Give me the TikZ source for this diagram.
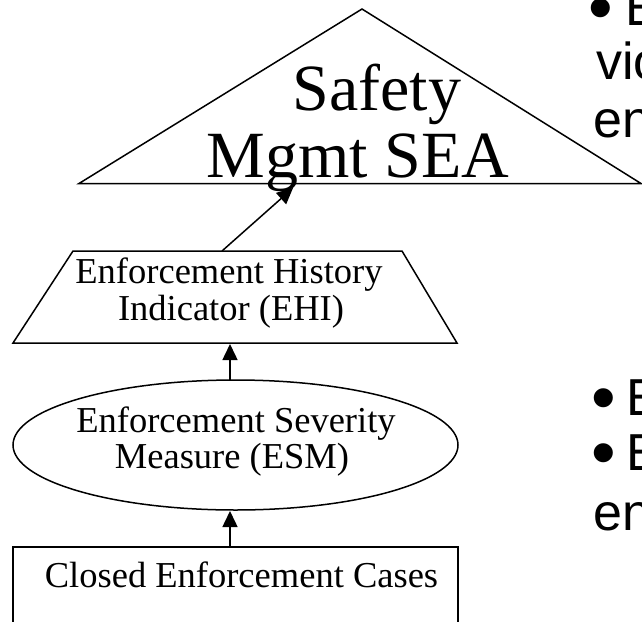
\documentclass[tikz,border=0pt]{standalone}
\usepackage{fontspec}
\setmainfont{Liberation Serif}
\newfontfamily\bulletfont{Liberation Sans}
\usetikzlibrary{arrows.meta,shapes.geometric}

% enlarged bullet followed by its item text, set in a box of the given width
\newcommand{\bulletitem}[2]{\makebox[#1][l]{\raisebox{-6pt}{\scalebox{1.35}{•}}}#2}

\tikzset{
  outline/.style={draw=black, line width=1.5pt, line join=miter},
  flowarrow/.style={draw=black, line width=1.5pt, -{Triangle[length=16pt,width=15pt]}},
  bigtext/.style={inner sep=0pt, anchor=base, font=\fontsize{66}{67}\selectfont},
  boxtext/.style={inner sep=0pt, anchor=base, font=\fontsize{36.5}{37}\selectfont},
  sidetext/.style={inner sep=0pt, anchor=base west, text height=38pt, text depth=0pt,
    font=\bulletfont\fontsize{52}{58}\selectfont}
}

\begin{document}
\begin{tikzpicture}[x=1pt, y=-1pt]
  \useasboundingbox (0,0) rectangle (642,621);
  \clip (0,0) rectangle (642,621);

  % Safety management triangle
  \coordinate (apex) at (362,9);
  \coordinate (baseL) at (79,183.5);
  \coordinate (baseR) at (641,183.5);
  \draw[outline] (apex) -- (baseR) -- (baseL) -- cycle;
  \node[bigtext] (seaA) at (377,110) {Safety};
  \node[bigtext] (seaB) at (358,177) {Mgmt SEA};

  % Enforcement history indicator (trapezoid)
  \coordinate (ehiTL) at (73,251);
  \coordinate (ehiTR) at (402,251);
  \coordinate (ehiBR) at (457,343);
  \coordinate (ehiBL) at (13,343);
  \draw[outline] (ehiTL) -- (ehiTR) -- (ehiBR) -- (ehiBL) -- cycle;
  \node[boxtext] (ehiA) at (229,283) {Enforcement History};
  \node[boxtext] (ehiB) at (231,320) {Indicator (EHI)};

  % Enforcement severity measure (ellipse)
  \node[outline, ellipse, minimum width=445pt, minimum height=130pt, inner sep=0pt] (esm) at (235.5,445) {};
  \node[boxtext] (esmA) at (236,432) {Enforcement Severity};
  \node[boxtext] (esmB) at (232,468) {Measure (ESM)};

  % Closed enforcement cases (box running off the bottom)
  \coordinate (cecBL) at (13,630);
  \coordinate (cecTL) at (13,547);
  \coordinate (cecTR) at (458,547);
  \coordinate (cecBR) at (458,630);
  \draw[outline] (cecBL) -- (cecTL) -- (cecTR) -- (cecBR);
  \node[boxtext] (cec) at (241.5,587) {Closed Enforcement Cases};

  % Connectors
  \coordinate (ehiOut) at (222,251);
  \coordinate (seaIn) at (293,188);
  \coordinate (esmOut) at (230,380);
  \coordinate (ehiIn) at (230,344);
  \coordinate (cecOut) at (230,547);
  \coordinate (esmIn) at (230,511);
  \draw[flowarrow] (ehiOut) -- (seaIn);
  \draw[flowarrow] (esmOut) -- (ehiIn);
  \draw[flowarrow] (cecOut) -- (esmIn);

  % Bullet text at the right edge
  \node[sidetext] (topA) at (588,25) {\bulletitem{37pt}{E}};
  \node[sidetext] (topB) at (596,79) {vio};
  \node[sidetext] (topC) at (593,137) {en};
  \node[sidetext] (botA) at (591,415) {\bulletitem{35pt}{E}};
  \node[sidetext] (botB) at (591,470) {\bulletitem{35pt}{E}};
  \node[sidetext] (botC) at (593,530) {en};
\end{tikzpicture}
\end{document}
